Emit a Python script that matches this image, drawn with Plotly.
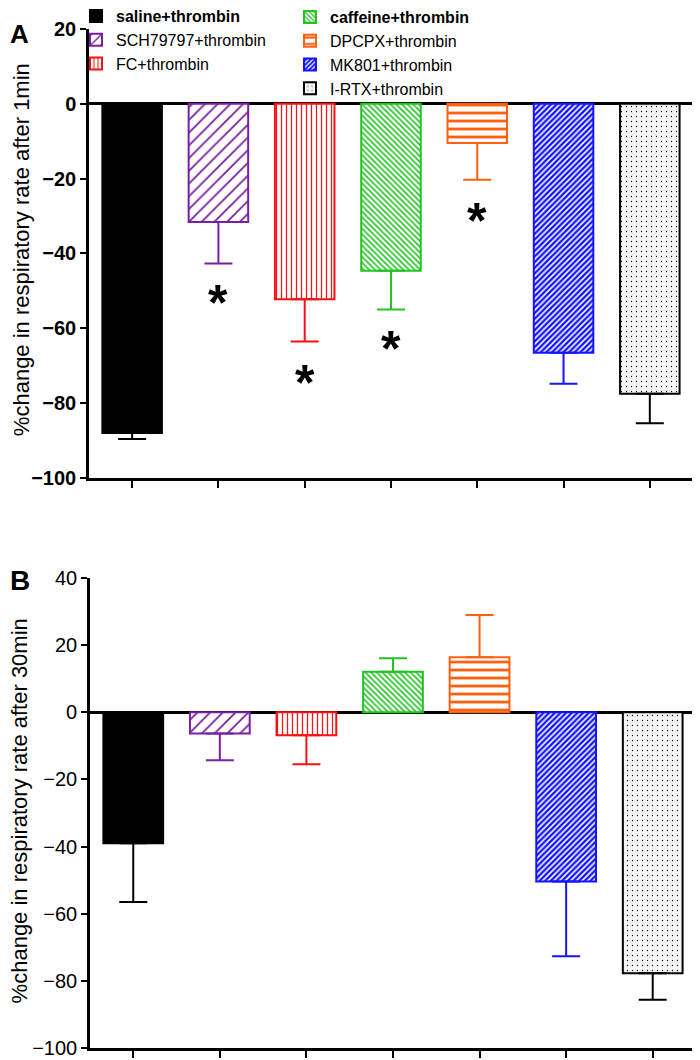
import plotly.graph_objects as go

# groups and colours
groups = ['saline+thrombin', 'SCH79797+thrombin', 'FC+thrombin', 'caffeine+thrombin',
          'DPCPX+thrombin', 'MK801+thrombin', 'I-RTX+thrombin']
legend_names = ['<b>saline+thrombin</b>', 'SCH79797+thrombin', 'FC+thrombin',
                '<b>caffeine+thrombin</b>', 'DPCPX+thrombin', 'MK801+thrombin', 'I-RTX+thrombin']

# panel A: % change after 1 min (mean, SEM)
mean_1min = [-88.0, -31.6, -52.2, -44.6, -10.5, -66.5, -77.5]
sem_1min = [1.6, 11.1, 11.3, 10.4, 9.8, 8.3, 7.9]
# asterisks below bars in panel A
star_groups = ['SCH79797+thrombin', 'FC+thrombin', 'caffeine+thrombin', 'DPCPX+thrombin']
star_y = [-51.5, -73.0, -64.0, -29.8]

# panel B: % change after 30 min (mean, SEM)
mean_30min = [-39.0, -6.3, -6.8, 12.1, 16.4, -50.4, -77.7]
sem_30min = [17.5, 8.0, 8.7, 4.0, 12.6, 22.3, 7.9]

colors = ['black', '#7B1FA2', '#FF1010', '#22C422', '#FF6010', '#1414FF', 'black']
patterns = [
    dict(shape=''),
    dict(shape='/', fgcolor='#7B1FA2', bgcolor='white', size=9, solidity=0.2, fillmode='replace'),
    dict(shape='|', fgcolor='#FF1010', bgcolor='white', size=5, solidity=0.25, fillmode='replace'),
    dict(shape='\\', fgcolor='#22C422', bgcolor='white', size=4, solidity=0.4, fillmode='replace'),
    dict(shape='-', fgcolor='#FF6010', bgcolor='white', size=8, solidity=0.35, fillmode='replace'),
    dict(shape='/', fgcolor='#1414FF', bgcolor='white', size=4, solidity=0.6, fillmode='replace'),
    dict(shape='.', fgcolor='black', bgcolor='#F6F6F6', size=5, solidity=0.05, fillmode='replace'),
]

FONT = 'Arial, Liberation Sans, sans-serif'

fig = go.Figure()


def add_bars(means, sems, xa, ya, show):
    for i, g in enumerate(groups):
        m = means[i]
        up = sems[i] if m > 0 else 0
        down = sems[i] if m < 0 else 0
        fig.add_trace(go.Bar(
            x=[g], y=[m], width=0.69,
            name=legend_names[i],
            legend='legend' if i < 3 else 'legend2',
            showlegend=show,
            marker=dict(color=colors[i], line=dict(color=colors[i], width=2),
                        pattern=patterns[i]),
            error_y=dict(type='data', symmetric=False, array=[up], arrayminus=[down],
                         color=colors[i], thickness=2, width=14),
            xaxis=xa, yaxis=ya,
        ))


add_bars(mean_1min, sem_1min, 'x', 'y', True)
add_bars(mean_30min, sem_30min, 'x2', 'y2', False)

xcommon = dict(type='category', categoryorder='array', categoryarray=groups,
               range=[-0.5, 6.5], showline=True, linecolor='black', linewidth=2.5,
               ticks='outside', ticklen=7, tickwidth=2, tickcolor='black',
               showticklabels=False, showgrid=False, zeroline=False)
ycommon = dict(showline=True, linecolor='black', linewidth=2.5, ticks='outside',
               ticklen=6, tickwidth=2, tickcolor='black', dtick=20, showgrid=False,
               zeroline=True, zerolinecolor='black', zerolinewidth=2.5)

# page body adds an 8px margin, so the figure is 8px smaller on each side
fig.update_layout(
    width=692, height=1052,
    margin=dict(l=81, r=4, t=21, b=12, autoexpand=False),
    plot_bgcolor='white', paper_bgcolor='white',
    barmode='overlay',
    font=dict(family=FONT, color='black'),
    xaxis=dict(domain=[0, 0.995], anchor='y', **xcommon),
    xaxis2=dict(domain=[0.0016, 1], anchor='y2', **xcommon),
    yaxis=dict(domain=[0.5594, 1], range=[-100, 20], anchor='x',
               tickfont=dict(size=20, weight='bold'), **ycommon),
    yaxis2=dict(domain=[0, 0.4612], range=[-100, 40], anchor='x2',
                tickfont=dict(size=20), **ycommon),
    legend=dict(x=-0.0214, y=1.0294, xanchor='left', yanchor='top',
                bgcolor='rgba(0,0,0,0)', font=dict(size=16), itemwidth=30,
                tracegroupgap=0),
    legend2=dict(x=0.3311, y=1.0284, xanchor='left', yanchor='top',
                 bgcolor='rgba(0,0,0,0)', font=dict(size=16), itemwidth=30,
                 tracegroupgap=0),
)

# asterisks
for g, sy in zip(star_groups, star_y):
    fig.add_annotation(x=g, y=sy, xref='x', yref='y', text='<b>*</b>', showarrow=False,
                       font=dict(size=50, color='black'), yanchor='middle', yshift=-6)

# y axis titles and panel letters
fig.add_annotation(x=-0.112, y=0.783, xref='paper', yref='paper', textangle=-90,
                   text='%change in respiratory rate after 1min', showarrow=False,
                   font=dict(size=22), xanchor='center', yanchor='middle')
fig.add_annotation(x=-0.113, y=0.2326, xref='paper', yref='paper', textangle=-90,
                   text='%change in respiratory rate after 30min', showarrow=False,
                   font=dict(size=22), xanchor='center', yanchor='middle')
fig.add_annotation(x=-0.1334, y=1.012, xref='paper', yref='paper', text='<b>A</b>',
                   showarrow=False, font=dict(size=26), xanchor='left', yanchor='top')
fig.add_annotation(x=-0.1334, y=0.476, xref='paper', yref='paper', text='<b>B</b>',
                   showarrow=False, font=dict(size=28), xanchor='left', yanchor='top')

fig.write_html('out.html')
